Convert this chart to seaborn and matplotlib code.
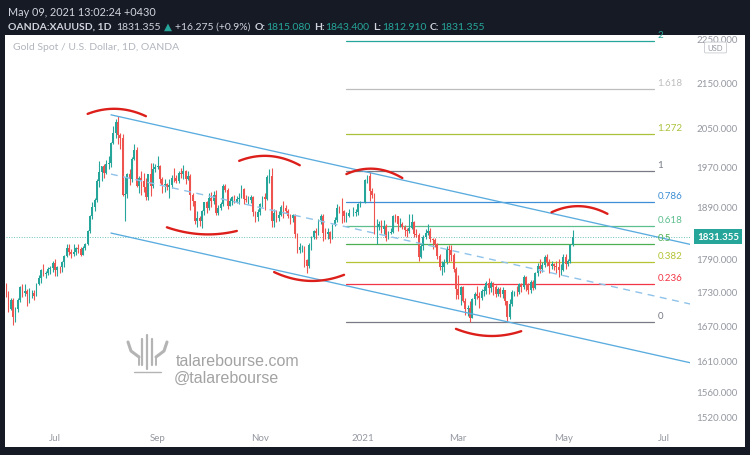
import numpy as np
import pandas as pd
import matplotlib
matplotlib.use("Agg")
import matplotlib.pyplot as plt
import matplotlib.transforms as mtransforms
from matplotlib.patches import Rectangle, FancyBboxPatch
from matplotlib.ticker import FixedLocator, NullLocator, FixedFormatter
import seaborn as sns

# ---------------- data (XAUUSD daily, Jun 2 2020 -> May 7 2021) ----------------
first_candle = "2020-06-02"
last_candle = "2021-05-07"
no_bar_days = ["2020-12-25", "2021-01-01"]

opens = [
    1739,1727,1699,1714,1685,1698,1715,1737,1727,1730,1725,1727,1727,1722,1743,1754,1768,1761,1763,1771,1772,
    1781,1769,1775,1774,1783,1795,1809,1803,1798,1802,1809,1808,1797,1810,1817,1842,1871,1889,1902,1941,1958,1970,1957,
    1975,1976,2019,2039,2062,2035,2028,1912,1915,1954,1944,1985,2003,1930,1946,1940,1928,1908,1954,1930,1964,
    1968,1971,1944,1931,1934,1928,1931,1947,1946,1940,1956,1955,1960,1944,1950,1912,1900,1862,1867,1862,1881,1898,
    1887,1906,1900,1913,1877,1887,1894,1930,1922,1891,1901,1908,1899,1905,1907,1924,1904,1902,1902,1908,1878,1868,
    1879,1894,1909,1904,1948,1951,1862,1877,1866,1873,1889,1887,1880,1871,1866,1872,1837,1805,1811,1811,1788,
    1776,1815,1830,1841,1839,1863,1870,1839,1836,1840,1827,1854,1863,1886,1881,1880,1871,1871,1876,1876,1878,1894,
    1898,1943,1950,1919,1913,1849,1850,1856,1845,1851,1828,1839,1840,1871,1870,1855,1856,1850,1843,1842,
    1847,1860,1837,1834,1793,1814,1831,1838,1842,1826,1824,1818,1795,1775,1775,1784,1808,1805,1797,1770,
    1734,1723,1738,1712,1698,1700,1683,1716,1726,1722,1719,1731,1731,1745,1736,1745,1738,1726,1734,1725,1732,1712,1685,
    1708,1728,1729,1728,1743,1737,1756,1744,1733,1747,1736,1764,1777,1770,1778,1793,1783,1777,1780,1777,1774,1768,
    1769,1792,1779,1785,1815.08,
]
highs = [
    1745,1730,1719,1718,1702,1719,1740,1744,1743,1734,1736,1732,1733,1745,1759,1770,1779,1767,1774,1776,1785,
    1789,1776,1777,1786,1797,1818,1817,1807,1817,1811,1818,1811,1814,1820,1843,1872,1898,1906,1945,1981,1971,1975,1983,
    1992,2021,2055,2070,2075,2040,2038,1949,1956,1965,1989,2015,2010,1951,1960,1956,1946,1955,1976,1976,1975,
    1992,1973,1948,1945,1936,1944,1952,1966,1952,1960,1966,1973,1962,1960,1955,1917,1901,1880,1871,1883,1899,1900,
    1917,1918,1920,1921,1893,1899,1933,1933,1925,1907,1910,1912,1911,1917,1931,1925,1912,1910,1913,1911,1881,1884,
    1897,1910,1917,1952,1965,1966,1884,1882,1881,1892,1900,1893,1884,1874,1875,1875,1839,1820,1816,1814,1790,
    1820,1832,1844,1848,1865,1875,1875,1848,1848,1842,1856,1868,1895,1891,1907,1883,1879,1884,1889,1885,1896,1901,
    1944,1952,1959,1926,1917,1865,1862,1863,1864,1856,1841,1848,1873,1875,1871,1867,1860,1854,1848,1875,
    1875,1862,1846,1838,1817,1835,1845,1855,1848,1828,1828,1820,1798,1786,1789,1814,1815,1815,1801,1774,
    1760,1740,1739,1718,1705,1712,1718,1728,1739,1728,1734,1740,1749,1755,1748,1747,1741,1737,1738,1737,1733,1713,1716,
    1733,1731,1740,1745,1745,1759,1757,1745,1750,1750,1766,1781,1790,1783,1797,1798,1789,1785,1782,1785,1790,1780,
    1798,1799,1789,1817,1843.4,
]
lows = [
    1720,1693,1697,1670,1676,1693,1711,1720,1722,1704,1709,1719,1715,1721,1741,1746,1757,1755,1759,1762,1766,
    1757,1758,1764,1765,1774,1792,1796,1791,1795,1797,1801,1795,1796,1806,1815,1839,1865,1880,1899,1928,1940,1946,1955,
    1964,1969,2015,2028,2015,2005,1911,1862,1907,1931,1939,1983,1928,1917,1913,1918,1902,1902,1911,1925,1959,
    1964,1936,1916,1918,1922,1906,1926,1938,1937,1935,1946,1945,1933,1942,1882,1891,1856,1849,1851,1847,1873,1877,
    1882,1889,1895,1873,1873,1882,1891,1918,1884,1890,1893,1896,1896,1895,1906,1895,1898,1895,1897,1870,1860,1862,
    1872,1889,1882,1902,1936,1850,1849,1859,1861,1871,1866,1877,1867,1855,1860,1829,1800,1800,1802,1774,1764,
    1773,1806,1827,1826,1834,1855,1822,1826,1826,1820,1826,1851,1860,1876,1858,1860,1860,1868,1870,1871,1873,1889,
    1896,1935,1901,1906,1836,1817,1843,1838,1836,1823,1826,1836,1838,1860,1842,1850,1845,1833,1830,1838,
    1845,1830,1830,1785,1791,1806,1827,1834,1821,1808,1811,1789,1768,1760,1765,1780,1783,1785,1765,1717,
    1717,1705,1711,1688,1687,1676,1682,1705,1717,1700,1714,1721,1725,1726,1728,1724,1720,1722,1720,1719,1705,1677,1681,
    1704,1722,1721,1725,1729,1734,1731,1725,1727,1733,1734,1758,1763,1765,1775,1777,1764,1770,1769,1764,1756,1760,
    1767,1770,1776,1782,1812.91,
]
closes = [
    1727,1699,1714,1685,1698,1715,1737,1727,1730,1725,1727,1727,1722,1743,1754,1768,1761,1763,1771,1772,1781,
    1769,1775,1774,1783,1795,1809,1803,1798,1802,1809,1808,1797,1810,1817,1842,1871,1889,1902,1941,1958,1970,1957,1975,
    1976,2019,2039,2062,2035,2028,1912,1915,1954,1944,1985,2003,1930,1946,1940,1928,1908,1954,1930,1964,1968,
    1971,1944,1931,1934,1928,1931,1947,1946,1940,1956,1955,1960,1944,1950,1912,1900,1862,1867,1862,1881,1898,1887,
    1906,1900,1913,1877,1887,1894,1930,1922,1891,1901,1908,1899,1905,1907,1924,1904,1902,1902,1908,1878,1868,1879,
    1894,1909,1904,1948,1951,1862,1877,1866,1873,1889,1887,1880,1871,1866,1872,1837,1805,1811,1811,1788,1776,
    1815,1830,1841,1839,1863,1870,1839,1836,1840,1827,1854,1863,1886,1881,1880,1871,1871,1876,1876,1878,1894,1898,
    1943,1950,1919,1913,1849,1850,1856,1845,1851,1828,1839,1840,1871,1870,1855,1856,1850,1843,1842,1847,
    1860,1837,1834,1793,1814,1831,1838,1842,1826,1824,1818,1795,1775,1775,1784,1808,1805,1797,1770,1734,
    1723,1738,1712,1698,1700,1683,1716,1726,1722,1719,1731,1731,1745,1736,1745,1738,1726,1734,1725,1732,1712,1685,1708,
    1728,1729,1728,1743,1737,1756,1744,1733,1747,1736,1764,1777,1770,1778,1793,1783,1777,1780,1777,1774,1768,1769,
    1792,1779,1785,1815,1831.355,
]

last_price = 1831.355

# price axis ticks
price_ticks = [1520, 1560, 1610, 1670, 1730, 1790, 1890, 1970, 2050, 2150, 2250]
# time axis
tick_months = ["2020-07", "2020-09", "2020-11", "2021-01", "2021-03", "2021-05", "2021-07"]
tick_labels = ["Jul", "Sep", "Nov", "2021", "Mar", "May", "Jul"]

# fibonacci retracement tool
fib_levels = [0, 0.236, 0.382, 0.5, 0.618, 0.786, 1, 1.272, 1.618, 2]
fib_labels = ["0", "0.236", "0.382", "0.5", "0.618", "0.786", "1", "1.272", "1.618", "2"]
fib_low, fib_high = 1676.0, 1959.3
fib_span = ["2020-12-23", "2021-06-25"]

# descending channel (trend lines)
channel_dates = ["2020-08-04", "2021-07-19"]
channel_upper = [2078, 1816]
channel_mid = [1954, 1707]
channel_lower = [1838, 1606]

# hand-drawn red arcs (start, apex, end)
arc_dates = [
    ["2020-07-21", "2020-08-05", "2020-08-25"],
    ["2020-09-07", "2020-09-25", "2020-10-19"],
    ["2020-10-20", "2020-11-06", "2020-11-25"],
    ["2020-11-10", "2020-12-04", "2020-12-22"],
    ["2020-12-23", "2021-01-06", "2021-01-26"],
    ["2021-02-26", "2021-03-17", "2021-04-07"],
    ["2021-04-26", "2021-05-11", "2021-05-28"],
]
arc_prices = [
    [2080, 2091, 2075],
    [1849, 1836, 1842],
    [1981, 1991, 1972],
    [1765, 1749, 1760],
    [1954, 1965, 1946],
    [1664, 1652, 1660],
    [1878, 1890, 1875],
]

# ---------------- styling ----------------
sns.set_theme(style="white")
plt.rcParams["font.family"] = ["Lato", "DejaVu Sans"]

UP, DOWN = "#26a69a", "#ef5350"
AXIS_TXT = "#9598a1"
W, H = 750, 456

fig = plt.figure(figsize=(7.5, 4.56), dpi=100, facecolor="#161a25")
fig.patches.append(Rectangle((5 / W, 8 / H), 740 / W, 412 / H, transform=fig.transFigure,
                             facecolor="white", edgecolor="none", zorder=-10))

ax = fig.add_axes([6 / W, 34 / H, 684 / W, 386 / H])
ax.set_zorder(1)
ax.set_facecolor("none")
ax.patch.set_alpha(0)
for s in ax.spines.values():
    s.set_visible(False)
ax.grid(False)

timeline = pd.bdate_range("2020-06-01", "2021-07-30")
def pos(dates):
    return timeline.get_indexer(pd.to_datetime(dates))

cdates = pd.bdate_range(first_candle, last_candle).drop(pd.to_datetime(no_bar_days))
xs = pos(cdates)
o, h, l, c = map(np.asarray, (opens, highs, lows, closes))
colors = np.where(c >= o, UP, DOWN)

ax.set_yscale("log")
ax.vlines(xs, l, h, colors=colors, lw=0.8, zorder=3)
body_lo = np.minimum(o, c)
body_h = np.maximum(np.abs(c - o), 0.8)
ax.bar(xs, body_h, bottom=body_lo, width=0.72, color=colors, edgecolor="none", zorder=4)

# current price dotted line
ax.axhline(last_price, color="#6cc3b9", lw=0.7, ls=(0, (1, 1.6)), zorder=2)

# channel lines
cx = pos(channel_dates)
sns.lineplot(x=cx, y=channel_upper, ax=ax, color="#5aacdf", lw=0.95, zorder=5)
sns.lineplot(x=cx, y=channel_lower, ax=ax, color="#5aacdf", lw=0.95, zorder=5)
sns.lineplot(x=cx, y=channel_mid, ax=ax, color="#8fc3ea", lw=1.0, zorder=5, linestyle=(0, (5, 4)))

# fibonacci levels
fib_colors = ["#787b86", "#f23645", "#b5c334", "#4caf50", "#5dbf8e", "#3d8ed6",
              "#787b86", "#a9c23a", "#bdbdbd", "#26a69a"]
fx = pos(fib_span)
for lev, lab, col in zip(fib_levels, fib_labels, fib_colors):
    p = fib_low + lev * (fib_high - fib_low)
    ax.plot(fx, [p, p], color=col, lw=0.9, zorder=2)
    ax.annotate(lab, xy=(fx[1], p), xytext=(2.5, 1.5), textcoords="offset points",
                ha="left", va="bottom", color=col, fontsize=7, zorder=6)

# red arcs
for ds, ps in zip(arc_dates, arc_prices):
    t = pos(ds).astype(float)
    coef = np.polyfit(t, np.log(ps), 2)
    tt = np.linspace(t[0], t[-1], 60)
    ax.plot(tt, np.exp(np.polyval(coef, tt)), color="#dc1f1a", lw=1.7, zorder=7,
            solid_capstyle="round")

# axes limits / ticks
ax.set_xlim(0.98, 294.4)
ax.set_ylim(1512.2, 2257.5)
ax.yaxis.tick_right()
ax.yaxis.set_major_locator(FixedLocator(price_ticks))
ax.yaxis.set_minor_locator(NullLocator())
ax.yaxis.set_major_formatter(FixedFormatter([f"{v:.3f}" for v in price_ticks]))
ax.tick_params(axis="y", length=0, pad=4.5, labelsize=7, labelcolor=AXIS_TXT)
month_pos = [int(np.argmax(timeline.strftime("%Y-%m") == m)) for m in tick_months]
ax.set_xticks(month_pos)
ax.set_xticklabels(tick_labels)
ax.xaxis.set_minor_locator(NullLocator())
ax.tick_params(axis="x", length=0, pad=8.5, labelsize=7, labelcolor=AXIS_TXT)

# last price tag on the price scale
blend = mtransforms.blended_transform_factory(ax.transAxes, ax.transData)
ax.annotate(f"{last_price:.3f}", xy=(1.0, last_price), xycoords=blend, xytext=(5, 0),
            textcoords="offset points", ha="left", va="center", color="white",
            fontsize=7, fontweight="bold", annotation_clip=False, zorder=10,
            bbox=dict(boxstyle="square,pad=0.3", fc=UP, ec="none"))

# USD badge
fig.patches.append(FancyBboxPatch((706 / W, 1 - 53 / H), 19 / W, 9 / H,
                                  boxstyle="round,pad=0.002", transform=fig.transFigure,
                                  fc="white", ec="#c8cad0", lw=0.6, zorder=5))
fig.text(715.5 / W, 1 - 48.5 / H, "USD", color=AXIS_TXT, fontsize=5.5, ha="center", va="center", zorder=6)

# chart title inside panel
fig.text(13 / W, 1 - 48 / H, "Gold Spot / U.S. Dollar, 1D, OANDA", color="#b2b5be",
         fontsize=7.5, ha="left", va="center")

# header
HDR_W = "#d1d4dc"
fig.text(8 / W, 1 - 12 / H, "May 09, 2021 13:02:24 +0430", color=HDR_W, fontsize=7.8,
         ha="left", va="center")
renderer = fig.canvas.get_renderer()
segments = [("OANDA:XAUUSD, 1D", HDR_W, "bold", 5), ("1831.355", HDR_W, "normal", 3),
            ("▲", UP, "normal", 3), ("+16.275 (+0.9%)", HDR_W, "normal", 4),
            ("O:", HDR_W, "bold", 0.5), ("1815.080", UP, "normal", 4),
            ("H:", HDR_W, "bold", 0.5), ("1843.400", UP, "normal", 4),
            ("L:", HDR_W, "bold", 0.5), ("1812.910", UP, "normal", 4),
            ("C:", HDR_W, "bold", 0.5), ("1831.355", UP, "normal", 0)]
x = 8.0
for txt, col, wt, gap in segments:
    t = fig.text(x / W, 1 - 27 / H, txt, color=col, fontsize=7.5, fontweight=wt,
                 ha="left", va="center")
    x += t.get_window_extent(renderer).width + gap

# watermark
WM = "#a3a3a3"
fig.text(176 / W, 1 - 362 / H, "talarebourse.com", color=WM, fontsize=11.5,
         family=["Liberation Sans", "DejaVu Sans"], ha="left", va="center", zorder=-5)
fig.text(174 / W, 1 - 378 / H, "@talarebourse", color=WM, fontsize=11.5,
         family=["Liberation Sans", "DejaVu Sans"], ha="left", va="center", zorder=-5)
def P(xp, yp):
    return xp / W, 1 - yp / H
logo = [
    ([P(128, 343), P(131, 352), P(139, 358)], 2.2),
    ([P(167, 343), P(164, 352), P(156, 358)], 2.2),
    ([P(142, 340), P(142, 366)], 1.6),
    ([P(147, 336), P(147, 370)], 1.6),
    ([P(152, 340), P(152, 366)], 1.6),
    ([P(139, 358), P(139, 366)], 1.4),
    ([P(156, 358), P(156, 366)], 1.4),
    ([P(134, 373), P(161, 373)], 1.0),
]
for pts, lw in logo:
    xx, yy = zip(*pts)
    fig.lines.append(plt.Line2D(xx, yy, transform=fig.transFigure, color="#b4b4b4", lw=lw,
                                solid_capstyle="round", zorder=-5))

fig.savefig("out.png", dpi=100, facecolor=fig.get_facecolor())
